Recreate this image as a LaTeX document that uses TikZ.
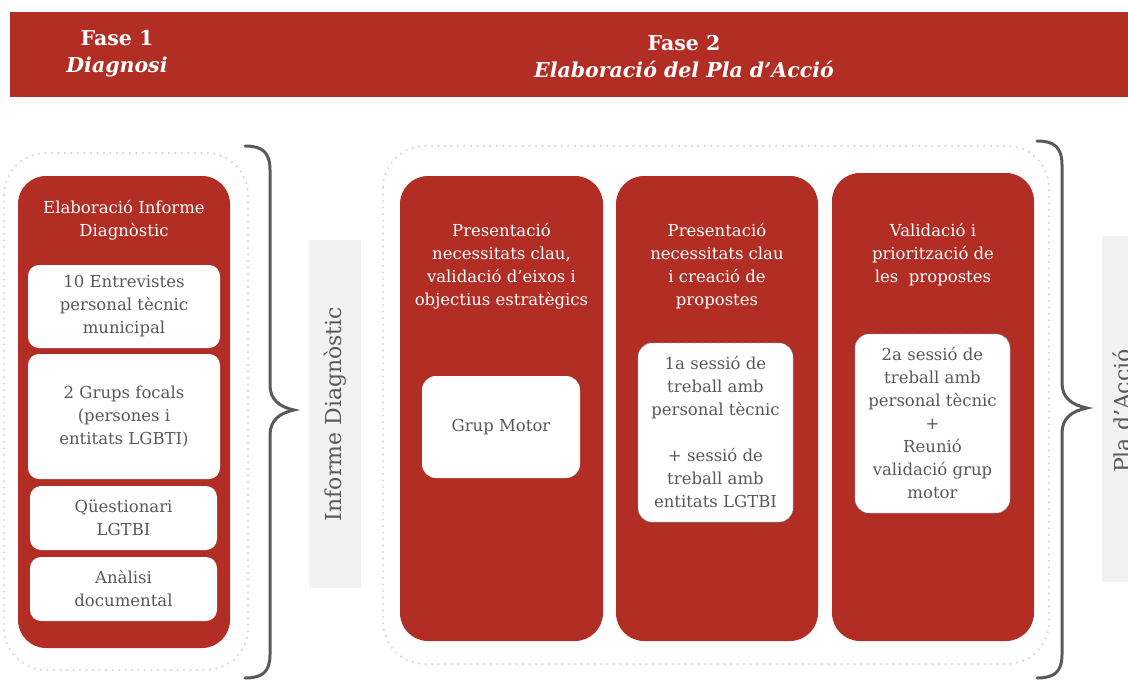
\documentclass[tikz,border=0pt]{standalone}
\usepackage{fontspec}
\setmainfont{DejaVu Serif}
\usetikzlibrary{fit}
\definecolor{rd}{HTML}{B22E25}
\definecolor{txtg}{HTML}{595959}
\definecolor{dotg}{HTML}{D6D6D6}
\definecolor{lbg}{HTML}{F2F2F2}
\definecolor{braceg}{HTML}{5A5A5A}
\definecolor{dotb}{HTML}{5BB8E6}
\begin{document}
\begin{tikzpicture}[x=1pt,y=-1pt,
  redbox/.style={fill=rd, rounded corners=28pt, inner sep=0pt},
  whitebox/.style={fill=white, rounded corners=11pt, inner sep=0pt},
  bluebox/.style={fill=white, draw=dotb, densely dotted, line width=0.6pt, rounded corners=14pt, inner sep=0pt},
  frame/.style={draw=dotg, line width=2.4pt, dash pattern=on 0pt off 6.5pt, line cap=round, rounded corners=42pt},
  greybar/.style={fill=lbg, inner sep=0pt},
  bodytxt/.style={font=\fontsize{16.5}{23}\selectfont, align=center, text=txtg},
  titletxt/.style={font=\fontsize{16.5}{23}\selectfont, align=center, text=white},
  headtxt/.style={font=\fontsize{20.5}{27}\selectfont\bfseries, align=center, text=white},
  sidetxt/.style={font=\fontsize{22}{24}\selectfont, text=txtg, rotate=90},
  brace/.style={draw=braceg, line width=3pt, line cap=round}]
\useasboundingbox (0,0) rectangle (1128,680);
\clip (0,0) rectangle (1128,680);
% header
\node[fill=rd, inner sep=0pt, fit={(10,12) (1140,97)}] (hdr) {};
\node[headtxt] (f1) at (117,54) {Fase 1\\\textit{Diagnosi}};
\node[headtxt] (f2) at (684,57) {Fase 2\\\textit{Elaboració del Pla d’Acció}};
% frames
\draw[frame] (4,153) rectangle (248,670);
\draw[frame] (383,146) rectangle (1049,664);
% phase 1 box
\node[redbox, fit={(18,176) (230,648)}] (diag) {};
\node[titletxt] (diagt) at (124,220) {Elaboració Informe\\Diagnòstic};
\node[whitebox, fit={(28,265) (220,348)}] (w1) {};
\node[bodytxt] at (w1.center) (w1t) {10 Entrevistes\\personal tècnic\\municipal};
\node[whitebox, fit={(28,354) (220,479)}] (w2) {};
\node[bodytxt] at (w2.center) (w2t) {2 Grups focals\\(persones i\\entitats LGBTI)};
\node[whitebox, fit={(30,486) (217,550)}] (w3) {};
\node[bodytxt] at (w3.center) (w3t) {Qüestionari\\LGTBI};
\node[whitebox, fit={(30,557) (217,621)}] (w4) {};
\node[bodytxt] at (w4.center) (w4t) {Anàlisi\\documental};
% left brace
\draw[brace] (245,146) .. controls (262,146) and (270,152) .. (270,170)
  -- (270,385) .. controls (270,400) and (280,407) .. (294,410)
  .. controls (280,413) and (270,420) .. (270,435)
  -- (270,655) .. controls (270,672) and (262,678) .. (245,678);
\node[greybar, fit={(309,240) (361,588)}] (ig) {};
\node[sidetxt] (igt) at (ig.center) {Informe Diagnòstic};
% phase 2 boxes
\node[redbox, fit={(400,176) (603,641)}] (pa) {};
\node[titletxt] (pat) at (501.5,266) {Presentació\\necessitats clau,\\validació d’eixos i\\objectius estratègics};
\node[whitebox, rounded corners=14pt, fit={(422,376) (580,478)}] (gm) {};
\node[bodytxt] (gmt) at (gm.center) {Grup Motor};
\node[redbox, fit={(616,176) (818,641)}] (pb) {};
\node[titletxt] (pbt) at (717,266) {Presentació\\necessitats clau\\i creació de\\propostes};
\node[bluebox, fit={(638,343) (793,522)}] (sb) {};
\node[bodytxt] (sbt) at (sb.center) {1a sessió de\\treball amb\\personal tècnic\\[23pt]+ sessió de\\treball amb\\entitats LGTBI};
\node[redbox, fit={(832,173) (1034,641)}] (pc) {};
\node[titletxt] (pct) at (933,255) {Validació i\\priorització de\\les\ \ propostes};
\node[bluebox, fit={(855,334) (1010,513)}] (sc) {};
\node[bodytxt] (sct) at (sc.center) {2a sessió de\\treball amb\\personal tècnic\\+\\Reunió\\validació grup\\motor};
% right brace
\draw[brace] (1037,141) .. controls (1054,141) and (1062,147) .. (1062,165)
  -- (1062,383) .. controls (1062,398) and (1072,405) .. (1087,408)
  .. controls (1072,411) and (1062,418) .. (1062,433)
  -- (1062,655) .. controls (1062,672) and (1054,678) .. (1037,678);
\node[greybar, fit={(1102,236) (1150,582)}] (pg) {};
\node[sidetxt, anchor=north, inner sep=0pt] (pgt) at (1113,411) {Pla d’Acció};
\end{tikzpicture}
\end{document}
